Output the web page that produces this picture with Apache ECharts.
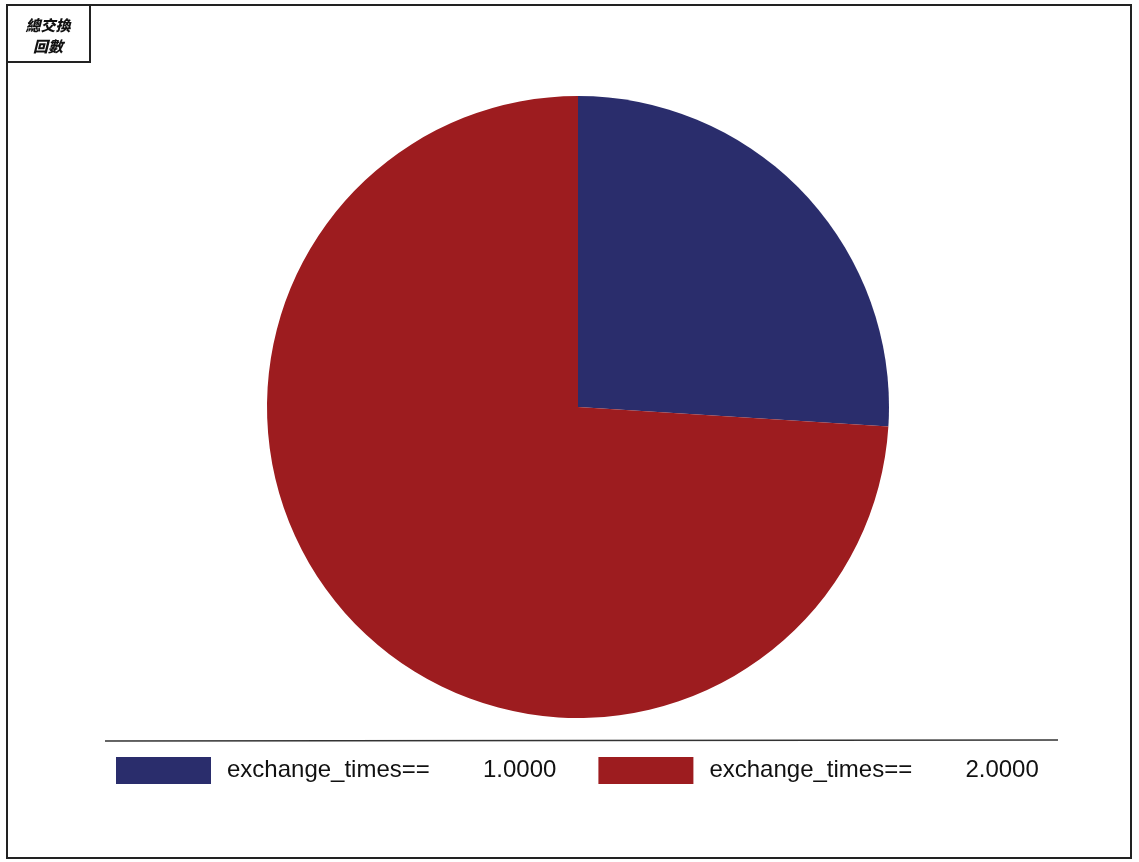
<!DOCTYPE html>
<html>
<head>
<meta charset="utf-8">
<script src="https://cdn.jsdelivr.net/npm/echarts@6/dist/echarts.min.js"></script>
<style>html,body{margin:0;padding:0;background:#fff;}#c{width:1139px;height:862px;}</style>
</head>
<body>
<div id="c"></div>
<script>
const categories = ['exchange_times==|1.0000', 'exchange_times==|2.0000'];
const values = [26, 74];
const colors = ['#2a2d6c', '#9d1c1f'];
const titleText = '總交換\n回數';

const chart = echarts.init(document.getElementById('c'));
chart.setOption({
  animation: false,
  backgroundColor: '#ffffff',
  graphic: [
    { type: 'rect', shape: { x: 7, y: 5, width: 1124, height: 853 }, style: { fill: 'none', stroke: '#222', lineWidth: 2 } },
    { type: 'rect', shape: { x: 7, y: 5, width: 83, height: 57 }, style: { fill: 'none', stroke: '#222', lineWidth: 2 } },
    { type: 'text', x: 48, y: 15, style: { text: titleText, font: 'italic 900 15px "Noto Sans CJK TC"', fill: '#111', align: 'center', lineHeight: 21 } },
    { type: 'line', shape: { x1: 105, y1: 741, x2: 1058, y2: 740 }, style: { stroke: '#333', lineWidth: 1.5 } }
  ],
  legend: {
    left: 111,
    top: 752,
    itemWidth: 95,
    itemHeight: 27,
    itemGap: 42,
    icon: 'rect',
    formatter: function (name) {
      const p = name.split('|');
      return '{a|' + p[0] + '}{b|' + p[1] + '}';
    },
    textStyle: {
      rich: {
        a: { fontFamily: 'Liberation Sans', fontSize: 24, color: '#111', width: 256 },
        b: { fontFamily: 'Liberation Sans', fontSize: 24, color: '#111' }
      },
      padding: [0, 0, 0, 11]
    },
    data: categories
  },
  series: [{
    type: 'pie',
    center: [578, 407],
    radius: [0, 311],
    startAngle: 90,
    clockwise: true,
    label: { show: false },
    labelLine: { show: false },
    emphasis: { disabled: true },
    itemStyle: { borderWidth: 0 },
    data: categories.map((n, i) => ({ name: n, value: values[i], itemStyle: { color: colors[i] } }))
  }]
});
</script>
</body>
</html>
